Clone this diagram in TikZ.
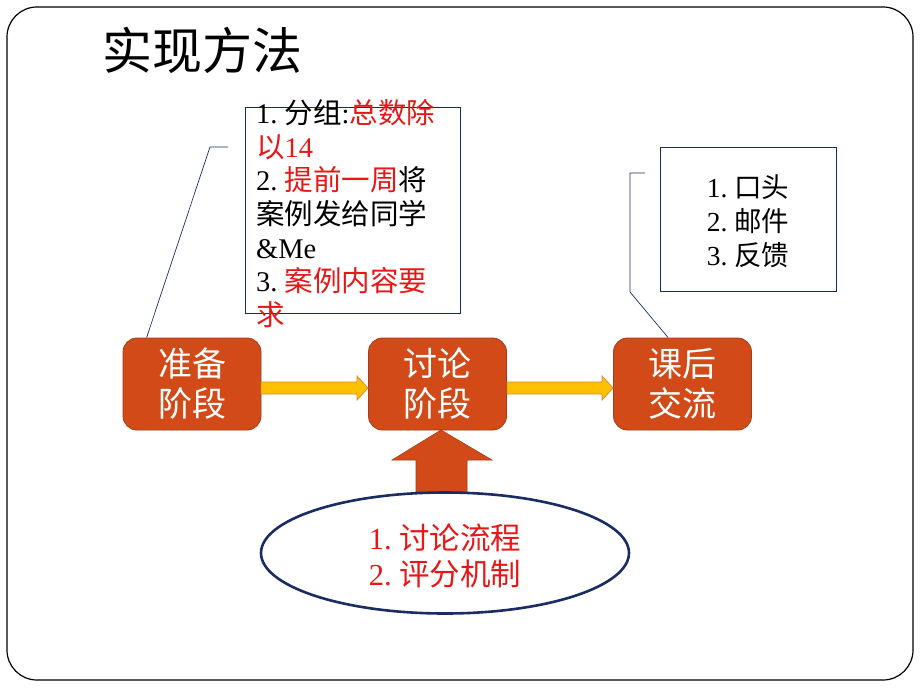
\documentclass[tikz,border=0pt]{standalone}
\usepackage{fontspec}
\setmainfont{Liberation Serif}
\newfontfamily\cjk{Noto Sans CJK SC}
\usetikzlibrary{shapes.geometric}
\definecolor{stage}{RGB}{209,74,24}
\definecolor{stageline}{RGB}{165,60,20}
\definecolor{yel}{RGB}{255,192,0}
\definecolor{yelline}{RGB}{215,140,50}
\definecolor{navy}{RGB}{25,45,100}
\definecolor{rd}{RGB}{232,22,22}
\newcommand{\zh}[1]{{\cjk #1}}
\newcommand{\rz}[1]{{\color{rd}\cjk #1}}
\begin{document}
\begin{tikzpicture}[x=1pt,y=-1pt,
  stagebox/.style={rectangle, rounded corners=14pt, fill=stage, draw=stageline, line width=0.8pt,
    minimum width=138pt, minimum height=92pt, text=white, align=center,
    font=\fontsize{34}{40}\selectfont\cjk, inner sep=0pt},
  callbox/.style={rectangle, draw=navy, line width=0.8pt, inner sep=0pt},
  callline/.style={draw=navy, line width=0.7pt},
  yarrow/.style={fill=yel, draw=yelline, line width=0.8pt},
  uparrow/.style={fill=stage, draw=stageline, line width=0.6pt}]
\useasboundingbox (0,0) rectangle (920,690);
\draw[line width=1.2pt, rounded corners=30pt] (7,7) rectangle (913,680);

\node[anchor=west, font=\fontsize{50}{54}\selectfont\cjk, inner sep=0pt] (title) at (102,50) {实现方法};

\node[stagebox] (prep) at (192,384) {准备\\阶段};
\node[stagebox] (disc) at (437.5,384) {讨论\\阶段};
\node[stagebox] (post) at (682.5,384) {课后\\交流};

% callout 1
\node[callbox, minimum width=215pt, minimum height=206pt] (c1) at (352.5,210) {};
\node[anchor=north west, align=left, font=\fontsize{28.5}{33.7}\selectfont, inner sep=0pt] (c1t) at (256,99)
  {1.~\zh{分组}:\rz{总数除}\\
   \rz{以}{\color{rd}14}\\
   2.~\rz{提前一周}\zh{将}\\
   \zh{案例发给同学}\\
   \&Me\\
   3.~\rz{案例内容要}\\
   \rz{求}};
\coordinate (k1) at (210,147);
\coordinate (k2) at (228,147);
\draw[callline] ([xshift=24pt]prep.north west) -- (k1) -- (k2);

% callout 2
\node[callbox, minimum width=176pt, minimum height=144pt] (c2) at (748,219) {};
\node[align=left, font=\fontsize{27.5}{34}\selectfont, inner sep=0pt] (c2t) at (748,221)
  {1.~\zh{口头}\\2.~\zh{邮件}\\3.~\zh{反馈}};
\coordinate (m1) at (630,292);
\coordinate (m2) at (630,173);
\coordinate (m3) at (645,173);
\draw[callline] ([xshift=55pt]post.north west) -- (m1) -- (m2) -- (m3);

% yellow arrows
\draw[yarrow] (261,382) -- (357,382) -- (357,376) -- (368,388) -- (357,400) -- (357,394) -- (261,394) -- cycle;
\draw[yarrow] (507,382) -- (602,382) -- (602,376) -- (613,388) -- (602,400) -- (602,394) -- (507,394) -- cycle;

% up arrow
\draw[uparrow] (416,492) -- (416,460) -- (392,460) -- (441,430) -- (492,460) -- (467,460) -- (467,492) -- cycle;

% ellipse
\node[ellipse, draw=navy, line width=2.6pt, minimum width=368pt, minimum height=121pt, inner sep=0pt] (ell) at (445,553) {};
\node[text=rd, align=left, font=\fontsize{30.5}{36}\selectfont, inner sep=0pt] (et) at (445,556)
  {1.~\zh{讨论流程}\\2.~\zh{评分机制}};
\end{tikzpicture}
\end{document}
